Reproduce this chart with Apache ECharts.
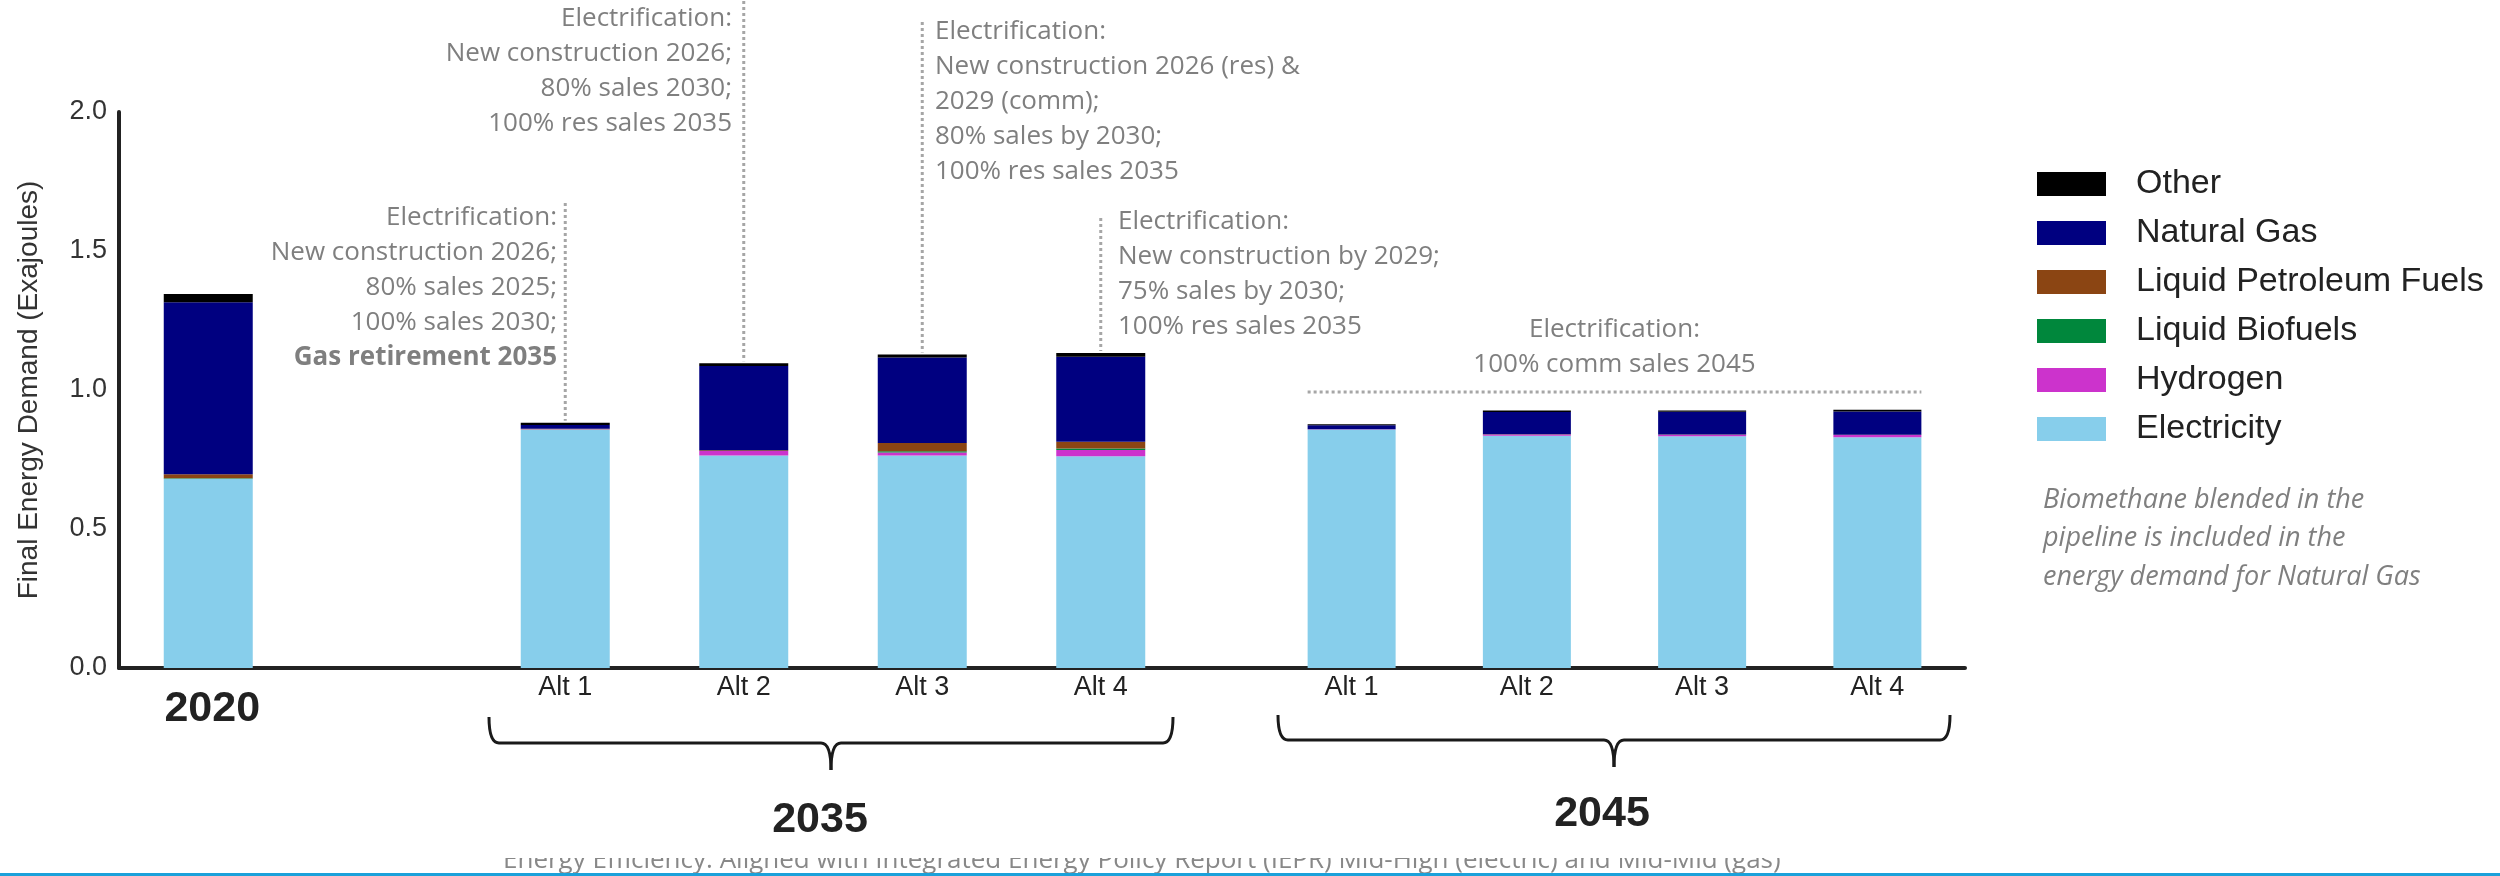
<!DOCTYPE html>
<html>
<head>
<meta charset="utf-8">
<title>Final Energy Demand</title>
<script src="https://cdn.jsdelivr.net/npm/echarts@6/dist/echarts.min.js"></script>
<style>
    html, body { margin: 0; padding: 0; background: #fff; }
    #chart { width: 2500px; height: 876px; }
</style>
</head>
<body>
<div id="chart"></div>
<script>
// Categories (2020 + gap + 2035 alternatives, then 2045 alternatives)
const cats2035 = ['2020', '', 'Alt 1', 'Alt 2', 'Alt 3', 'Alt 4'];
const cats2045 = ['Alt 1', 'Alt 2', 'Alt 3', 'Alt 4'];
const yTicks = [0, 0.5, 1.0, 1.5, 2.0];

// Fuels, stacked bottom -> top
const fuels = ['Electricity', 'Hydrogen', 'Liquid Biofuels', 'Liquid Petroleum Fuels', 'Natural Gas', 'Other'];
const fuelColors = ['#87ceeb', '#cc33cc', '#00873c', '#8b4513', '#000080', '#000000'];
const legendOrder = ['Other', 'Natural Gas', 'Liquid Petroleum Fuels', 'Liquid Biofuels', 'Hydrogen', 'Electricity'];

// Exajoules, 2020 and 2035 (slot 1 is empty)
const elec2035  = [0.681, null, 0.858, 0.764, 0.764, 0.762];
const hydro2035 = [0.000, null, 0.001, 0.017, 0.011, 0.022];
const bio2035   = [0.002, null, 0.000, 0.000, 0.005, 0.006];
const lpf2035   = [0.014, null, 0.002, 0.002, 0.029, 0.024];
const gas2035   = [0.619, null, 0.013, 0.303, 0.308, 0.306];
const other2035 = [0.029, null, 0.008, 0.010, 0.011, 0.013];

// Exajoules, 2045
const elec2045  = [0.858, 0.835, 0.834, 0.830];
const hydro2045 = [0.001, 0.005, 0.005, 0.008];
const bio2045   = [0.000, 0.000, 0.000, 0.000];
const lpf2045   = [0.000, 0.001, 0.001, 0.001];
const gas2045   = [0.014, 0.080, 0.082, 0.084];
const other2045 = [0.004, 0.005, 0.004, 0.006];

const data2035 = [elec2035, hydro2035, bio2035, lpf2035, gas2035, other2035];
const data2045 = [elec2045, hydro2045, bio2045, lpf2045, gas2045, other2045];

// Annotation texts
const noteAlt1 = ['Electrification:', 'New construction 2026;', '80% sales 2025;', '100% sales 2030;', 'Gas retirement 2035'];
const noteAlt2 = ['Electrification:', 'New construction 2026;', '80% sales 2030;', '100% res sales 2035'];
const noteAlt3 = ['Electrification:', 'New construction 2026 (res) &', '2029 (comm);', '80% sales by 2030;', '100% res sales 2035'];
const noteAlt4 = ['Electrification:', 'New construction by 2029;', '75% sales by 2030;', '100% res sales 2035'];
const note2045 = ['Electrification:', '100% comm sales 2045'];
const bioNote = ['Biomethane blended in the', 'pipeline is included in the', 'energy demand for Natural Gas'];
const footnote = 'Energy Efficiency: Aligned with Integrated Energy Policy Report (IEPR) Mid-High (electric) and Mid-Mid (gas)';

const AXIS_FONT = 'Liberation Sans, Arial, sans-serif';
const NOTE_FONT = 'Open Sans, sans-serif';
const NOTE_GREY = '#7f7f7f';

const chart = echarts.init(document.getElementById('chart'));

// Build stacked series for both groups
function buildSeries() {
    const series = [];
    fuels.forEach((name, i) => {
        series.push({
            name: name, type: 'bar', stack: 'y2035',
            xAxisIndex: 0, yAxisIndex: 0,
            barWidth: 89,
            itemStyle: { color: fuelColors[i] },
            data: data2035[i]
        });
        series.push({
            name: name, type: 'bar', stack: 'y2045',
            xAxisIndex: 1, yAxisIndex: 1,
            barWidth: 88,
            itemStyle: { color: fuelColors[i] },
            data: data2045[i]
        });
    });
    return series;
}

const altLabel = {
    fontFamily: AXIS_FONT, fontSize: 27, color: '#222', margin: 6,
    interval: 0
};

const option = {
    animation: false,
    backgroundColor: '#fff',
    grid: [
        { left: 119, top: 112, width: 1071, height: 556 },
        { left: 1264, top: 112, width: 701, height: 556 }
    ],
    legend: {
        orient: 'vertical',
        left: 2032, top: 162,
        itemWidth: 69, itemHeight: 24, itemGap: 15,
        icon: 'rect',
        selectedMode: false,
        data: legendOrder,
        textStyle: { fontFamily: AXIS_FONT, fontSize: 34, color: '#222', lineHeight: 34, padding: [0, 0, 0, 25] }
    },
    xAxis: [
        {
            gridIndex: 0, type: 'category', data: cats2035,
            axisLine: { lineStyle: { color: '#222', width: 4 } },
            axisTick: { show: false },
            axisLabel: Object.assign({}, altLabel, {
                formatter: v => v === '2020' ? '{big|2020}' : v,
                rich: { big: { fontFamily: AXIS_FONT, fontSize: 43, fontWeight: 'bold', color: '#222', lineHeight: 44, padding: [26, 0, 0, 8] } }
            })
        },
        {
            gridIndex: 1, type: 'category', data: cats2045,
            axisLine: { lineStyle: { color: '#222', width: 4 } },
            axisTick: { show: false },
            axisLabel: altLabel
        }
    ],
    yAxis: [
        {
            gridIndex: 0, type: 'value', min: yTicks[0], max: yTicks[yTicks.length - 1], interval: 0.5,
            axisLine: { show: true, lineStyle: { color: '#222', width: 4 } },
            axisTick: { show: false },
            splitLine: { show: false },
            axisLabel: { fontFamily: AXIS_FONT, fontSize: 27, color: '#333', margin: 12, formatter: v => v.toFixed(1) },
            name: 'Final Energy Demand (Exajoules)',
            nameLocation: 'middle', nameGap: 76,
            nameTextStyle: { fontFamily: AXIS_FONT, fontSize: 28, color: '#333' }
        },
        {
            gridIndex: 1, type: 'value', min: 0, max: 2, show: false, splitLine: { show: false }
        }
    ],
    series: buildSeries()
};

chart.setOption(option);

// Sum of a stack at category i
function stackTotal(groups, i) {
    return groups.reduce((s, arr) => s + (arr[i] || 0), 0);
}

function textBlock(x, y, lines, align, boldLast) {
    const body = lines.map((s, i) => (boldLast && i === lines.length - 1 ? '{b|' : '{n|') + s + '}').join('\n');
    return {
        type: 'text', x: x, y: y, z: 20,
        style: {
            text: body, align: align, verticalAlign: 'top',
            rich: {
                n: { fontFamily: NOTE_FONT, fontSize: 26, lineHeight: 35, fill: NOTE_GREY },
                b: { fontFamily: NOTE_FONT, fontSize: 26, lineHeight: 35, fill: NOTE_GREY, fontWeight: 'bold' }
            }
        }
    };
}

function dotted(x1, y1, x2, y2) {
    return {
        type: 'line', z: 20,
        shape: { x1: x1, y1: y1, x2: x2, y2: y2 },
        style: { stroke: '#a6a6a6', lineWidth: 3, lineDash: [3, 3] }
    };
}

// curly brace made of lines and quadratic curves
function brace(left, right, top, mid, tip) {
    const c = (left + right) / 2;
    const st = { stroke: '#1a1a1a', lineWidth: 3, fill: null };
    const curve = (x1, y1, cx, cy, x2, y2) => ({
        type: 'bezierCurve', z: 20, style: st,
        shape: { x1: x1, y1: y1, cpx1: cx, cpy1: cy, x2: x2, y2: y2 }
    });
    const seg = (x1, y1, x2, y2) => ({ type: 'line', z: 20, style: st, shape: { x1: x1, y1: y1, x2: x2, y2: y2 } });
    return [
        curve(left, top, left, mid, left + 10, mid),
        seg(left + 10, mid, c - 10, mid),
        curve(c - 10, mid, c, mid, c, tip),
        curve(c, tip, c, mid, c + 10, mid),
        seg(c + 10, mid, right - 10, mid),
        curve(right - 10, mid, right, mid, right, top)
    ];
}

// Annotations, leader lines, braces and footer
function addAnnotations() {
    let g = [];
    const tops = [203, 1, 22, 218];
    for (let k = 0; k < 4; k++) {
        const i = k + 2;
        const p = chart.convertToPixel({ gridIndex: 0 }, [i, stackTotal(data2035, i)]);
        g.push(dotted(p[0], tops[k], p[0], p[1] - 2));
    }
    g.push(textBlock(557, 200, noteAlt1, 'right', true));
    g.push(textBlock(732, 1, noteAlt2, 'right', false));
    g.push(textBlock(935, 14, noteAlt3, 'left', false));
    g.push(textBlock(1118, 204, noteAlt4, 'left', false));

    // 2045 bracket line over the bars
    const a = chart.convertToPixel({ gridIndex: 1 }, [0, 0]);
    const b = chart.convertToPixel({ gridIndex: 1 }, [3, 0]);
    g.push(dotted(a[0] - 44, 392, b[0] + 44, 392));
    g.push(textBlock((a[0] + b[0]) / 2, 312, note2045, 'center', false));

    // join the two x axis lines
    const base = a[1];
    g.push({ type: 'line', z: 5, shape: { x1: 1188, y1: base, x2: 1266, y2: base }, style: { stroke: '#222', lineWidth: 4 } });

    g = g.concat(brace(489, 1173, 717, 743, 770));
    g = g.concat(brace(1278, 1950, 715, 740, 767));
    g.push({ type: 'text', x: 820, y: 820, z: 20, style: { text: '2035', align: 'center', verticalAlign: 'middle', fontFamily: AXIS_FONT, fontSize: 43, fontWeight: 'bold', fill: '#222' } });
    g.push({ type: 'text', x: 1602, y: 814, z: 20, style: { text: '2045', align: 'center', verticalAlign: 'middle', fontFamily: AXIS_FONT, fontSize: 43, fontWeight: 'bold', fill: '#222' } });

    // biomethane note
    g.push({
        type: 'text', x: 2043, y: 481, z: 20,
        style: { text: bioNote.join('\n'), align: 'left', verticalAlign: 'top', fontFamily: NOTE_FONT, fontStyle: 'italic', fontSize: 27, lineHeight: 38.5, fill: NOTE_GREY }
    });

    // footnote, clipped at the top like the slide
    g.push({ type: 'text', x: 503, y: 861, z: 15, style: { text: footnote, align: 'left', verticalAlign: 'middle', fontFamily: NOTE_FONT, fontSize: 26, fill: '#888' } });
    g.push({ type: 'rect', z: 16, shape: { x: 480, y: 836, width: 1400, height: 22 }, style: { fill: '#fff' } });
    g.push({ type: 'rect', z: 17, shape: { x: 0, y: 873, width: 2500, height: 3 }, style: { fill: '#1ba1da' } });

    chart.setOption({ graphic: g });
}

addAnnotations();
</script>
</body>
</html>
